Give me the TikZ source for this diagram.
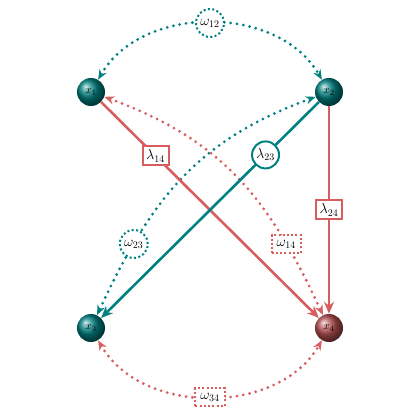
\documentclass[tikz,border=0pt]{standalone}
\usetikzlibrary{arrows.meta}
\definecolor{tealc}{RGB}{0,128,128}
\definecolor{redc}{RGB}{214,94,94}
\begin{document}
\begin{tikzpicture}[x=1pt,y=1pt,
  ball/.style={circle, minimum size=28pt, inner sep=0pt, shading=ball, font=\fontsize{11}{13}\selectfont, text=black},
  solidline/.style={line width=2.6pt, -{Stealth[length=12pt,width=10pt]}},
  dotline/.style={line width=3.1pt, dash pattern=on 0pt off 6.4pt, line cap=round, {Stealth[length=10pt,width=8pt]}-{Stealth[length=10pt,width=8pt]}},
  lbase/.style={draw, fill=white, line width=2pt, line cap=butt, text=black, font=\fontsize{14}{16}\selectfont},
  lrect/.style={lbase, rectangle, minimum width=26pt, minimum height=19pt, inner sep=2pt, solid},
  lcirc/.style={lbase, circle, minimum size=27pt, inner sep=0pt, solid},
  drect/.style={lbase, rectangle, minimum width=29pt, minimum height=18pt, inner sep=2pt, dash pattern=on 2pt off 2.2pt},
  dcirc/.style={lbase, circle, minimum size=28pt, inner sep=0pt, dash pattern=on 2pt off 2.4pt}
]
\useasboundingbox (-210,-210) rectangle (210,210);
\node[ball, ball color=tealc] (x1) at (-119,118) {$x_1$};
\node[ball, ball color=tealc] (x2) at (119,118) {$x_2$};
\node[ball, ball color=tealc] (x3) at (-119,-118) {$x_3$};
\node[ball, ball color=redc!85!black] (x4) at (119,-118) {$x_4$};

% dotted curves
\draw[tealc, dotline] (x1) to[out=60,in=120] node[pos=0.5, dcirc, draw=tealc] (w12) {$\omega_{12}$} (x2);
\draw[redc, dotline] (x3) to[out=-60,in=-120] node[pos=0.5, drect, draw=redc] (w34) {$\omega_{34}$} (x4);
\draw[tealc, dotline] (x2) to[out=200,in=65,looseness=1.05] node[pos=0.77, dcirc, draw=tealc] (w23) {$\omega_{23}$} (x3);
\draw[redc, dotline] (x1) to[out=-20,in=115,looseness=1.05] node[pos=0.77, drect, draw=redc] (w14) {$\omega_{14}$} (x4);

% solid lines
\draw[redc, solidline] (x1) -- node[pos=0.25, lrect, draw=redc] (l14) {$\lambda_{14}$} (x4);
\draw[tealc, solidline] (x2) -- node[pos=0.245, lcirc, draw=tealc] (l23) {$\lambda_{23}$} (x3);
\draw[redc, solidline] (x2) -- node[pos=0.5, lrect, draw=redc] (l24) {$\lambda_{24}$} (x4);
\end{tikzpicture}
\end{document}
